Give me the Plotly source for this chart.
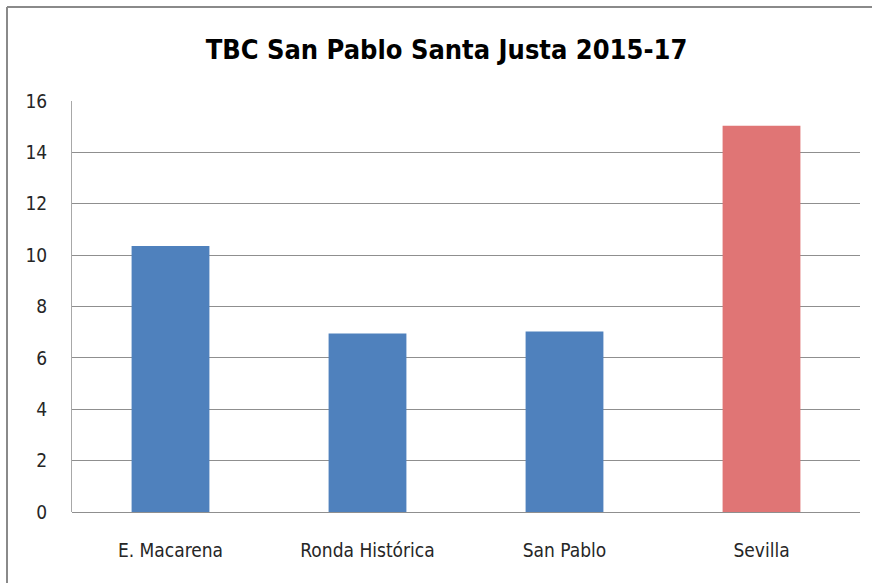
import plotly.graph_objects as go

categories = ["E. Macarena", "Ronda Histórica", "San Pablo", "Sevilla"]
values = [10.36, 6.95, 7.03, 15.04]
bar_colors = ["#4F81BD", "#4F81BD", "#4F81BD", "#E07575"]
y_ticks = [0, 2, 4, 6, 8, 10, 12, 14, 16]

W, H = 872, 583
L, R, T, B = 72, 12, 101, 71
pw, ph = W - L - R, H - T - B

font_family = "DejaVu Sans Condensed, Liberation Sans Narrow, sans-serif"

fig = go.Figure(go.Bar(
    x=categories, y=values,
    marker=dict(color=bar_colors, line=dict(width=0)),
))

fig.update_layout(
    width=W, height=H,
    margin=dict(l=L, r=R, t=T, b=B),
    paper_bgcolor="white", plot_bgcolor="white",
    bargap=0.605,
    showlegend=False,
    title=dict(text="<b>TBC San Pablo Santa Justa 2015-17</b>",
               x=0.512, xanchor="center", y=1 - 50 / H, yanchor="middle",
               font=dict(family=font_family, size=27, color="#000000")),
    font=dict(family=font_family, color="#000000"),
    xaxis=dict(showgrid=False, showline=False, ticks="",
               tickfont=dict(size=19, color="#262626"), ticklabelstandoff=25),
    yaxis=dict(range=[0, 16], tickvals=y_ticks, showgrid=True,
               gridcolor="#8f8f8f", gridwidth=1,
               showline=True, linecolor="#a8a8a8", linewidth=1,
               zeroline=True, zerolinecolor="#8f8f8f", zerolinewidth=1,
               ticks="", tickfont=dict(size=19, color="#262626"),
               ticklabelstandoff=20),
    shapes=[
        dict(type="line", xref="paper", yref="paper",
             x0=(7 - L) / pw, x1=(W + 5 - L) / pw,
             y0=1 + (T - 7) / ph, y1=1 + (T - 7) / ph,
             line=dict(color="#8a8a8a", width=2)),
        dict(type="line", xref="paper", yref="paper",
             x0=(7 - L) / pw, x1=(7 - L) / pw,
             y0=1 + (T - 7) / ph, y1=-(B + 5) / ph,
             line=dict(color="#8a8a8a", width=2)),
    ],
)

fig.write_html("out.html", config={"displayModeBar": False},
               post_script="document.body.style.margin='0';document.body.style.overflow='hidden';")
